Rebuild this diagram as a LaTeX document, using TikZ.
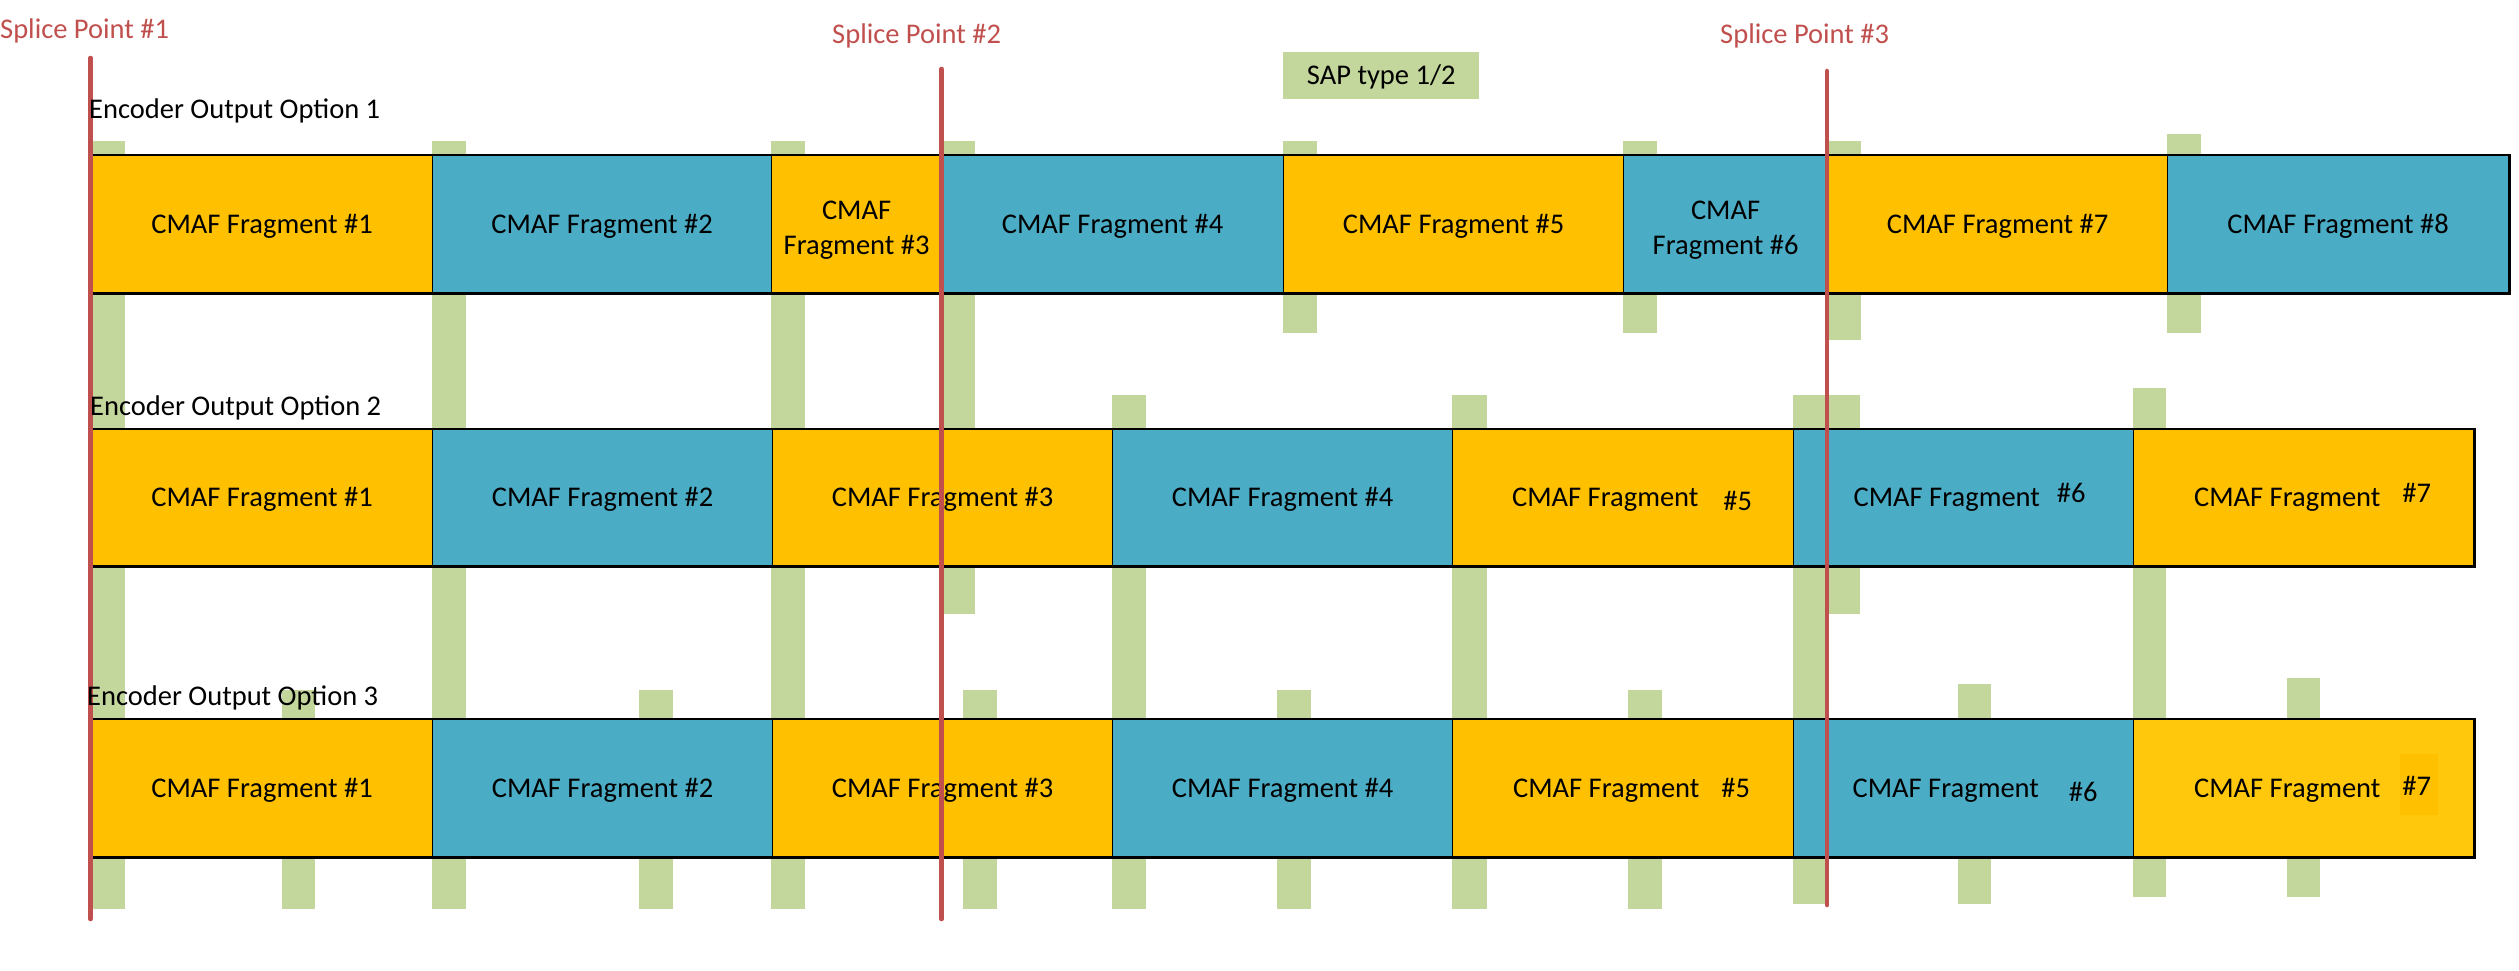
\documentclass[tikz,border=0pt]{standalone}
\usepackage{fontspec}
\setmainfont{Carlito}
\usetikzlibrary{calc}
\definecolor{fragO}{HTML}{FFC000}
\definecolor{fragY}{HTML}{FFC80C}
\definecolor{fragB}{HTML}{4BACC6}
\definecolor{sapG}{HTML}{C3D69B}
\definecolor{spliceR}{HTML}{C0504D}
\begin{document}
\begin{tikzpicture}[x=1pt,y=-1pt,
  font=\fontsize{28.5}{35}\selectfont,
  fragbase/.style={draw=black, line width=1.2pt, inner sep=0pt, anchor=north west},
  frag/.style={fragbase, text height=18pt, text depth=0pt},
  fragtwo/.style={fragbase, align=center},
  orng/.style={fill=fragO},
  blu/.style={fill=fragB},
  rowa/.style={minimum height=137pt},
  rowb/.style={minimum height=136pt},
  sapbar/.style={fill=sapG, draw=none},
  rowframe/.style={draw=black, line width=2.6pt},
  spliceline/.style={draw=spliceR, line width=4.5pt, line cap=round},
  splicelbl/.style={text=spliceR, inner sep=0pt, anchor=base west},
  enclbl/.style={text=black, inner sep=0pt, anchor=base west},
]
\useasboundingbox (0,0) rectangle (2519,971);

% SAP markers (green bars)
\foreach \xa/\xb/\ya/\yb in {
  91/125/141/909, 432/466/141/909, 771/805/141/909, 941/975/141/614,
  1283/1317/141/333, 1623/1657/141/333, 1827/1861/141/340, 2167/2201/134/333,
  1112/1146/395/909, 1452/1487/395/909, 1793/1827/395/904, 1827/1860/395/614,
  2133/2166/388/897,
  282/315/690/909, 639/673/690/909, 963/997/690/909, 1277/1311/690/909,
  1628/1662/690/909, 1958/1991/684/904, 2287/2320/678/897}
  \fill[sapbar] (\xa,\ya) rectangle (\xb,\yb);

% Row 1
\node[frag, orng, rowa, minimum width=341pt] (r1f1) at (91,155) {CMAF Fragment \#1};
\node[frag, blu, rowa, minimum width=339pt] (r1f2) at (432,155) {CMAF Fragment \#2};
\node[fragtwo, orng, rowa, minimum width=170pt] (r1f3) at (771,155) {\rule{0pt}{30pt}CMAF\\Fragment \#3};
\node[frag, blu, rowa, minimum width=342pt] (r1f4) at (941,155) {CMAF Fragment \#4};
\node[frag, orng, rowa, minimum width=340pt] (r1f5) at (1283,155) {CMAF Fragment \#5};
\node[fragtwo, blu, rowa, minimum width=204pt] (r1f6) at (1623,155) {\rule{0pt}{30pt}CMAF\\Fragment \#6};
\node[frag, orng, rowa, minimum width=340pt] (r1f7) at (1827,155) {CMAF Fragment \#7};
\node[frag, blu, rowa, minimum width=341pt] (r1f8) at (2167,155) {CMAF Fragment \#8};
\draw[rowframe] (r1f1.north west) rectangle (r1f8.south east);

% Row 2
\node[frag, orng, rowb, minimum width=341pt] (r2f1) at (91,429) {CMAF Fragment \#1};
\node[frag, blu, rowb, minimum width=340pt] (r2f2) at (432,429) {CMAF Fragment \#2};
\node[frag, orng, rowb, minimum width=340pt] (r2f3) at (772,429) {CMAF Fragment \#3};
\node[frag, blu, rowb, minimum width=340pt] (r2f4) at (1112,429) {CMAF Fragment \#4};
\node[frag, orng, rowb, minimum width=341pt] (r2f5) at (1452,429) {\hspace*{18pt}CMAF Fragment\hspace{25pt}\raisebox{-4pt}{\#5}};
\node[frag, blu, rowb, minimum width=340pt] (r2f6) at (1793,429) {\hspace*{12pt}CMAF Fragment\hspace{17pt}\raisebox{4pt}{\#6}};
\node[frag, orng, rowb, minimum width=340pt] (r2f7) at (2133,429) {\hspace*{18pt}CMAF Fragment\hspace{22pt}\raisebox{4pt}{\#7}};
\draw[rowframe] (r2f1.north west) rectangle (r2f7.south east);

% Row 3
\node[frag, orng, rowa, minimum width=341pt] (r3f1) at (91,719) {CMAF Fragment \#1};
\node[frag, blu, rowa, minimum width=340pt] (r3f2) at (432,719) {CMAF Fragment \#2};
\node[frag, orng, rowa, minimum width=340pt] (r3f3) at (772,719) {CMAF Fragment \#3};
\node[frag, blu, rowa, minimum width=340pt] (r3f4) at (1112,719) {CMAF Fragment \#4};
\node[frag, orng, rowa, minimum width=341pt] (r3f5) at (1452,719) {\hspace*{17pt}CMAF Fragment\hspace{22pt}\#5};
\node[frag, blu, rowa, minimum width=340pt] (r3f6) at (1793,719) {\hspace*{23pt}CMAF Fragment\hspace{30pt}\raisebox{-4.5pt}{\#6}};
\node[frag, fill=fragY, rowa, minimum width=340pt,
  path picture={\fill[fragO] ($(path picture bounding box.north east)+(-74,34)$) rectangle ($(path picture bounding box.north east)+(-36,95)$);}]
  (r3f7) at (2133,719) {\hspace*{18pt}CMAF Fragment\hspace{22pt}\raisebox{2pt}{\#7}};
\draw[rowframe] (r3f1.north west) rectangle (r3f7.south east);

% Splice points
\coordinate (sp1top) at (90.5,58);
\coordinate (sp1bot) at (90.5,919);
\coordinate (sp2top) at (941.5,69);
\coordinate (sp2bot) at (941.5,919);
\coordinate (sp3top) at (1827,71);
\coordinate (sp3bot) at (1827,905);
\draw[spliceline] (sp1top) -- (sp1bot);
\draw[spliceline] (sp2top) -- (sp2bot);
\draw[spliceline] (sp3top) -- (sp3bot);
\node[splicelbl] (sp1lbl) at (0,39) {Splice Point \#1};
\node[splicelbl] (sp2lbl) at (832,44) {Splice Point \#2};
\node[splicelbl] (sp3lbl) at (1720,44) {Splice Point \#3};

% SAP legend
\node[fill=sapG, inner sep=0pt, anchor=north west, minimum width=196pt, minimum height=47pt,
  text height=18pt, text depth=0pt] (sap) at (1283,52) {SAP type 1/2};

% Row labels
\node[enclbl] (enc1) at (89,119) {Encoder Output Option 1};
\node[enclbl] (enc2) at (90,415) {Encoder Output Option 2};
\node[enclbl] (enc3) at (87,705) {Encoder Output Option 3};
\end{tikzpicture}
\end{document}
